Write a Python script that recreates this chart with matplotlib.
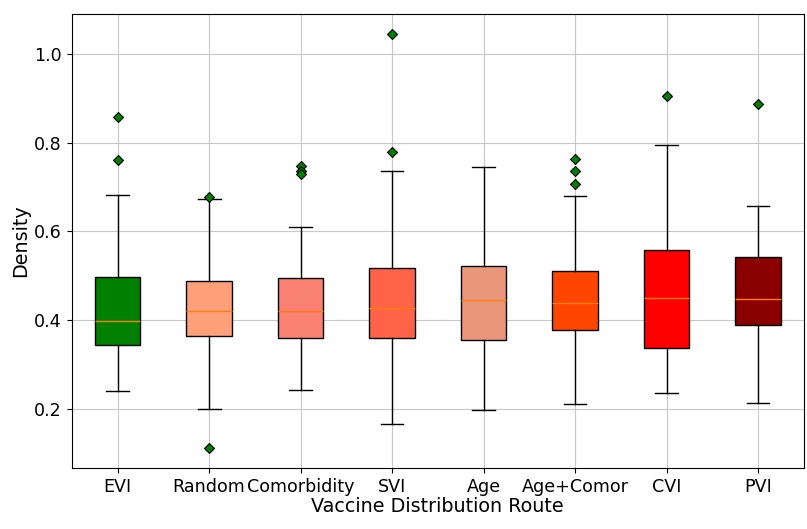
import matplotlib
matplotlib.use("Agg")
import matplotlib.pyplot as plt

# route names and five-number summaries of density
routes = ["EVI", "Random", "Comorbidity", "SVI", "Age", "Age+Comor", "CVI", "PVI"]
q1 = [0.344, 0.365, 0.360, 0.360, 0.355, 0.379, 0.338, 0.389]
med = [0.398, 0.421, 0.421, 0.427, 0.446, 0.438, 0.451, 0.448]
q3 = [0.497, 0.488, 0.494, 0.518, 0.522, 0.510, 0.559, 0.542]
whislo = [0.241, 0.201, 0.244, 0.166, 0.198, 0.212, 0.236, 0.214]
whishi = [0.682, 0.674, 0.609, 0.736, 0.745, 0.680, 0.795, 0.658]
fliers = [
    [0.857, 0.760],
    [0.677, 0.112],
    [0.748, 0.736, 0.729],
    [1.044, 0.779],
    [],
    [0.764, 0.736, 0.707],
    [0.905],
    [0.887],
]
colors = ["green", "lightsalmon", "salmon", "tomato", "darksalmon", "orangered", "red", "darkred"]

stats = []
for i in range(len(routes)):
    stats.append(dict(label=routes[i], q1=q1[i], med=med[i], q3=q3[i],
                      whislo=whislo[i], whishi=whishi[i], fliers=fliers[i]))

fig = plt.figure(figsize=(8.07, 5.29), dpi=100)
ax = fig.add_axes([0.089, 0.115, 0.907, 0.859])

bp = ax.bxp(stats, patch_artist=True,
            flierprops=dict(marker="D", markerfacecolor="green", markeredgecolor="black",
                            markersize=5.5, markeredgewidth=0.8))
for patch, c in zip(bp["boxes"], colors):
    patch.set_facecolor(c)

ax.set_ylim(0.067, 1.09)
ax.grid(True, color="#c8c8c8")
ax.tick_params(labelsize=12.6)
ax.set_xlabel("Vaccine Distribution Route", fontsize=13.8, labelpad=1)
ax.set_ylabel("Density", fontsize=13.8, labelpad=3)

fig.savefig("out.png", dpi=100)
